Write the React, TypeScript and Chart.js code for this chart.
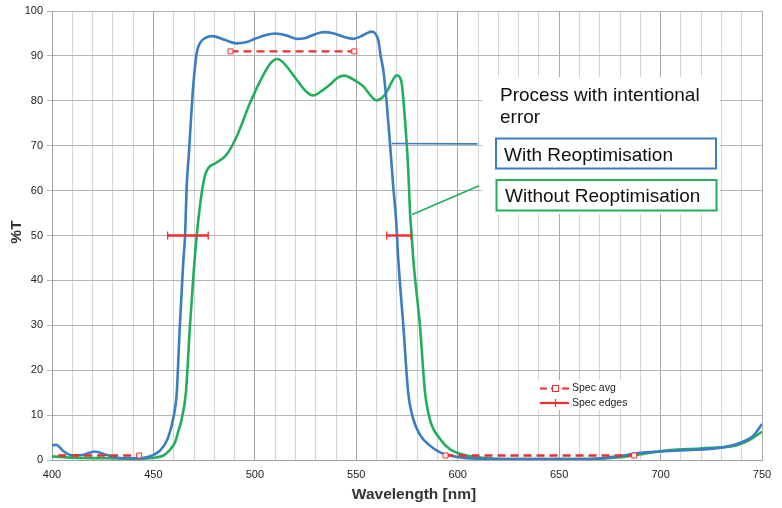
import React, { useEffect, useRef } from "react";
import { Chart, registerables } from "chart.js";
Chart.register(...registerables);

// ---- Data ----
const withReoptNm = [400, 402, 405.6, 410, 415, 421, 427, 435, 443, 448, 453, 457, 460, 461.5, 463, 464.7, 465.6, 466.4, 467.5, 468.5, 469.6, 471.3, 473, 476, 479, 485, 491, 496, 500, 505, 510, 516, 520.6, 525, 530, 534, 539, 544, 548.5, 552, 555, 557.6, 559.5, 561, 562, 563.3, 565, 566.6, 568.2, 569.6, 570.7, 573.2, 575.6, 578.1, 581.4, 586.3, 591.3, 599.5, 610, 630, 665, 680, 690, 700, 713, 729, 739, 745.7, 750];
const withReoptT = [3.2, 3.4, 2.0, 1.0, 1.1, 1.9, 1.1, 0.4, 0.4, 0.8, 2.0, 4.7, 9.8, 15, 29.8, 44, 50, 61, 68.4, 75.8, 83.2, 90.6, 92.9, 94.1, 94.4, 93.6, 92.8, 93.1, 93.8, 94.6, 95, 94.5, 93.8, 94.0, 94.9, 95.3, 95.0, 94.2, 93.8, 94.3, 95.0, 95.4, 94.9, 93.2, 90.0, 86.9, 79.5, 70.6, 61, 53.6, 44.7, 29.8, 15, 9.1, 5.6, 3.2, 1.7, 0.7, 0.3, 0.2, 0.2, 0.9, 1.6, 1.9, 2.2, 2.7, 3.8, 5.4, 8];

const withoutReoptNm = [400, 410, 427, 443, 450, 455, 458, 460.6, 462, 463.9, 466, 468, 469.7, 471.3, 473.8, 475.5, 477, 481, 486, 491, 497.6, 504.2, 508, 511, 514, 520.6, 525, 528.8, 533, 537, 541, 544, 548, 553.5, 557, 560, 563, 565, 568, 569.9, 571.5, 572.4, 574, 575.6, 576.5, 577.3, 578.1, 581.4, 583.9, 586.3, 591.3, 596.2, 604.4, 615, 630, 664, 680, 696, 705, 721, 737.5, 744, 750];
const withoutReoptT = [0.8, 0.5, 0.4, 0.3, 0.5, 1.0, 2.2, 3.9, 6, 9.1, 15, 29.8, 41, 49.8, 59.5, 63.5, 65, 66.2, 68, 72, 79.5, 85.8, 88.5, 89.3, 88.5, 84.7, 82.2, 81.2, 82.2, 83.6, 85.2, 85.6, 84.9, 83.2, 81.2, 80.1, 80.8, 82, 84.6, 85.7, 85.2, 83.9, 75.8, 64.7, 55, 50, 44.7, 29.8, 15, 9, 4.7, 2.4, 1.0, 0.4, 0.2, 0.2, 0.6, 1.7, 2.2, 2.6, 3.3, 4.5, 6.3];

const specAvgLowNm = [403, 443];
const specAvgLowT = [1, 1];
const specAvgTopNm = [488, 549];
const specAvgTopT = [91, 91];
const specAvgHighNm = [594, 687];
const specAvgHighT = [1, 1];
const specEdgeLeftNm = [457, 477];
const specEdgeRightNm = [565, 577];
const specEdgeT = [50, 50];

const xTickLabels = [400, 450, 500, 550, 600, 650, 700, 750];
const yTickLabels = [0, 10, 20, 30, 40, 50, 60, 70, 80, 90, 100];

const xAxisTitle = "Wavelength [nm]";
const yAxisTitle = "%T";
const noteTitle = ["Process with intentional", "error"];
const withLabel = "With Reoptimisation";
const withoutLabel = "Without Reoptimisation";
const specAvgLabel = "Spec avg";
const specEdgesLabel = "Spec edges";

const BLUE = "#3a7dc3";
const GREEN = "#22ae5a";
const RED = "#ee2e2e";
const FONT = "'Liberation Sans', Arial, sans-serif";

const pts = (xs: number[], ys: number[]) => xs.map((x, i) => ({ x, y: ys[i] }));

const annotations = {
  id: "annotations",
  afterDraw(chart: any) {
    const { ctx } = chart;
    const xs = chart.scales.x;
    const ys = chart.scales.y;
    ctx.save();

    // axis titles
    ctx.fillStyle = "#333";
    ctx.font = `bold 15.5px ${FONT}`;
    ctx.textAlign = "center";
    ctx.textBaseline = "middle";
    ctx.fillText(xAxisTitle, 414, 495);
    ctx.save();
    ctx.translate(17, 232);
    ctx.rotate(-Math.PI / 2);
    ctx.fillText(yAxisTitle, 0, 0);
    ctx.restore();

    // white panel behind notes
    ctx.fillStyle = "#fff";
    ctx.fillRect(482, 77, 238, 137);

    // leader lines
    ctx.lineWidth = 1.6;
    ctx.strokeStyle = BLUE;
    ctx.beginPath();
    ctx.moveTo(xs.getPixelForValue(567.5), ys.getPixelForValue(70.5));
    ctx.lineTo(xs.getPixelForValue(609.7), ys.getPixelForValue(70.4));
    ctx.stroke();
    ctx.strokeStyle = GREEN;
    ctx.beginPath();
    ctx.moveTo(xs.getPixelForValue(577.6), ys.getPixelForValue(54.7));
    ctx.lineTo(xs.getPixelForValue(610.5), ys.getPixelForValue(61.1));
    ctx.stroke();

    // note text
    ctx.fillStyle = "#111";
    ctx.font = `19px ${FONT}`;
    ctx.textAlign = "left";
    ctx.textBaseline = "alphabetic";
    ctx.fillText(noteTitle[0], 500, 101);
    ctx.fillText(noteTitle[1], 500, 123);

    // boxes
    ctx.lineWidth = 2;
    ctx.strokeStyle = BLUE;
    ctx.strokeRect(496, 138.5, 220, 30);
    ctx.strokeStyle = GREEN;
    ctx.strokeRect(496.5, 180, 220, 30.5);
    ctx.fillStyle = "#111";
    ctx.fillText(withLabel, 504, 160.5);
    ctx.fillText(withoutLabel, 505, 202);

    // legend
    ctx.fillStyle = "#fff";
    ctx.fillRect(536, 380, 96, 30);
    ctx.strokeStyle = RED;
    ctx.lineWidth = 2.2;
    ctx.setLineDash([7, 4]);
    ctx.beginPath();
    ctx.moveTo(540, 388.5);
    ctx.lineTo(569, 388.5);
    ctx.stroke();
    ctx.setLineDash([]);
    ctx.fillStyle = "#fff";
    ctx.fillRect(552, 385, 7, 7);
    ctx.lineWidth = 1;
    ctx.strokeRect(552.5, 385.5, 6, 6);
    ctx.lineWidth = 2.2;
    ctx.beginPath();
    ctx.moveTo(540, 403);
    ctx.lineTo(569, 403);
    ctx.stroke();
    ctx.lineWidth = 1.2;
    ctx.beginPath();
    ctx.moveTo(555.5, 399);
    ctx.lineTo(555.5, 407);
    ctx.stroke();
    ctx.fillStyle = "#222";
    ctx.font = `10.5px ${FONT}`;
    ctx.textBaseline = "middle";
    ctx.fillText(specAvgLabel, 572, 388.5);
    ctx.fillText(specEdgesLabel, 572, 403);

    ctx.restore();
  },
};

export default function App() {
  const ref = useRef<HTMLCanvasElement | null>(null);
  useEffect(() => {
    if (!ref.current) return;
    const avgStyle = {
      borderColor: RED,
      borderWidth: 2.4,
      borderDash: [8, 5],
      pointStyle: "rect",
      pointBorderColor: RED,
      pointBackgroundColor: "#fff",
      pointBorderWidth: 1,
      showLine: true,
      fill: false,
    };
    const edgeStyle = {
      borderColor: RED,
      borderWidth: 2.4,
      pointStyle: "line",
      pointRotation: 90,
      pointRadius: 4,
      pointBorderColor: RED,
      pointBorderWidth: 1.3,
      showLine: true,
      fill: false,
    };
    const chart = new Chart(ref.current, {
      type: "scatter",
      data: {
        datasets: [
          { ...avgStyle, data: pts(specAvgLowNm, specAvgLowT), pointRadius: [0, 3.5] },
          { ...avgStyle, data: pts(specAvgTopNm, specAvgTopT), pointRadius: 3.5 },
          { ...avgStyle, data: pts(specAvgHighNm, specAvgHighT), pointRadius: 3.5 },
          { ...edgeStyle, data: pts(specEdgeLeftNm, specEdgeT) },
          { ...edgeStyle, data: pts(specEdgeRightNm, specEdgeT) },
          {
            data: pts(withReoptNm, withReoptT),
            showLine: true,
            borderColor: BLUE,
            borderWidth: 2.6,
            pointRadius: 0,
            cubicInterpolationMode: "monotone",
          },
          {
            data: pts(withoutReoptNm, withoutReoptT),
            showLine: true,
            borderColor: GREEN,
            borderWidth: 2.6,
            pointRadius: 0,
            cubicInterpolationMode: "monotone",
          },
        ] as any,
      },
      options: {
        responsive: false,
        animation: false,
        events: [],
        layout: { padding: { top: 11, right: 20, left: 0, bottom: 0 } },
        plugins: { legend: { display: false }, tooltip: { enabled: false } },
        scales: {
          x: {
            type: "linear",
            min: 400,
            max: 750,
            afterFit: (s: any) => {
              s.height = 48;
            },
            ticks: {
              stepSize: 10,
              autoSkip: false,
              maxRotation: 0,
              padding: 8,
              color: "#222",
              font: { family: FONT, size: 11 },
              callback: (v: any) => (xTickLabels.includes(Number(v)) ? String(v) : ""),
            },
            grid: {
              drawTicks: false,
              color: (c: any) => (c.tick && c.tick.value % 50 === 0 ? "#a8a8a8" : "#d4d4d4"),
              lineWidth: 1,
            },
            border: { color: "#a0a0a0" },
          },
          y: {
            min: 0,
            max: 100,
            afterFit: (s: any) => {
              s.width = 52;
            },
            ticks: {
              stepSize: 10,
              padding: 4,
              color: "#222",
              font: { family: FONT, size: 11 },
              callback: (v: any) => (yTickLabels.includes(Number(v)) ? String(v) : ""),
            },
            grid: { color: "#b4b4b4", tickLength: 5, lineWidth: 1 },
            border: { color: "#a0a0a0" },
          },
        },
      },
      plugins: [annotations],
    });
    return () => chart.destroy();
  }, []);
  return (
    <div style={{ position: "fixed", left: 0, top: 0, width: 782, height: 508, background: "#fff" }}>
      <canvas ref={ref} width={782} height={508} style={{ display: "block" }} />
    </div>
  );
}
